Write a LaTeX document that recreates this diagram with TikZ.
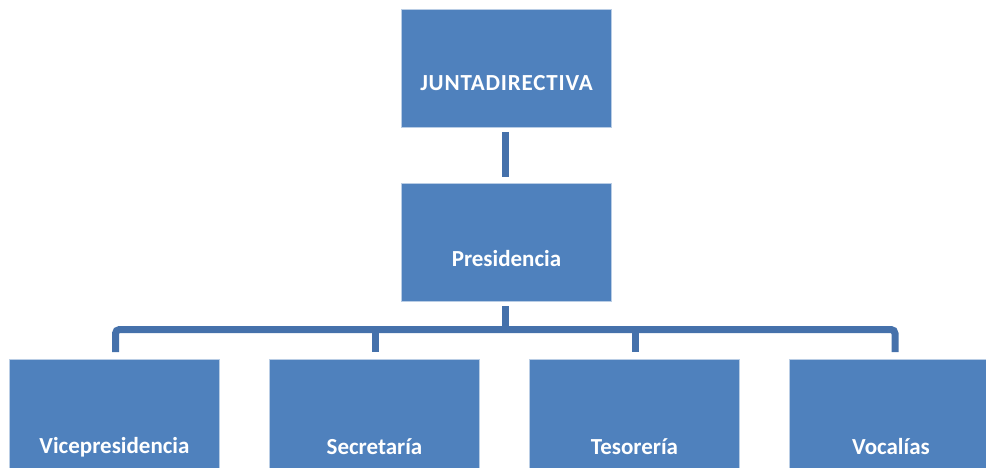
\documentclass[tikz,border=0pt]{standalone}
\usepackage{fontspec}
\setmainfont{Carlito}
\newfontfamily\titlefont[LetterSpace=3.5]{Carlito}
\definecolor{boxblue}{HTML}{4F81BD}
\definecolor{linkblue}{HTML}{4571AB}
\definecolor{edgeblue}{HTML}{B9CDE5}
\begin{document}
\begin{tikzpicture}[x=1pt,y=-1pt,
  orgbox/.style={rectangle, fill=boxblue, draw=edgeblue, line width=0.8pt,
    minimum width=210pt, minimum height=117.5pt, inner sep=0pt, outer sep=0pt},
  orgtext/.style={text=white, font=\fontsize{23}{27}\selectfont\bfseries, inner sep=0pt},
  conn/.style={draw=linkblue, line width=7pt}]
\useasboundingbox (0,0) rectangle (986,468);
% boxes
\node[orgbox] (jd)   at (506.5,68.2) {};
\node[orgbox] (pres) at (506.5,242.2) {};
\node[orgbox, anchor=north] (vice) at (114.5,359) {};
\node[orgbox, anchor=north] (secr) at (374.5,359) {};
\node[orgbox, anchor=north] (teso) at (634.5,359) {};
\node[orgbox, anchor=north] (voca) at (894.5,359) {};
% texts
\node[orgtext, font=\titlefont\fontsize{23}{27}\selectfont\bfseries] (tjd) at ([yshift=-15pt]jd.center) {JUNTADIRECTIVA};
\node[orgtext] (tpres) at ([yshift=-16.5pt]pres.center) {Presidencia};
\node[orgtext] (tvice) at (114.5,447) {Vicepresidencia};
\node[orgtext] (tsecr) at (374.5,447) {Secretaría};
\node[orgtext] (tteso) at (634.5,447) {Tesorería};
\node[orgtext] (tvoca) at (891,447) {Vocalías};
% connectors
\coordinate (bar) at (0,329.5);
\draw[conn, shorten <=5pt, shorten >=6pt] ([xshift=-1pt]jd.south) -- ([xshift=-1pt]pres.north);
\draw[conn, shorten <=5.5pt] ([xshift=-1pt]pres.south) -- ([xshift=-1pt]pres.south |- bar);
\draw[conn, rounded corners=4pt, shorten <=7pt, shorten >=7pt]
  ([xshift=1pt]vice.north) -- ([xshift=1pt]vice.north |- bar) -- ([xshift=0.5pt]voca.north |- bar) -- ([xshift=0.5pt]voca.north);
\draw[conn, shorten >=7pt] ([xshift=0.5pt]secr.north |- bar) -- ([xshift=0.5pt]secr.north);
\draw[conn, shorten >=7pt] ([xshift=0.5pt]teso.north |- bar) -- ([xshift=0.5pt]teso.north);
\end{tikzpicture}
\end{document}
